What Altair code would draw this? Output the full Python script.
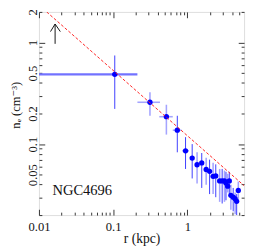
import altair as alt
import pandas as pd

# ---- data ----
r = [0.105, 0.313, 0.521, 0.731, 0.944, 1.16, 1.35, 1.56, 1.79, 1.99, 2.22, 2.41,
     2.72, 2.94, 3.16, 3.31, 3.49, 3.67, 3.85, 4.14, 4.40, 4.61, 4.85]
n = [0.486, 0.258, 0.186, 0.137, 0.0858, 0.0729, 0.0626, 0.0653, 0.0562, 0.0539,
     0.0482, 0.0486, 0.0434, 0.0434, 0.0434, 0.0413, 0.0385, 0.0434, 0.0313, 0.030,
     0.0289, 0.0273, 0.035]
n_hi = [0.745, 0.324, 0.244, 0.19, 0.117, 0.1, 0.083, 0.0817, 0.0734, 0.0703,
        0.0656, 0.0632, 0.0569, 0.0569, 0.0548, 0.0533, 0.051, 0.0533, 0.0398, 0.037,
        0.0334, 0.0322, 0.0428]
n_lo = [0.222, 0.19, 0.124, 0.083, 0.0569, 0.0459, 0.041, 0.037, 0.0398, 0.0322,
        0.0322, 0.030, 0.027, 0.026, 0.027, 0.028, 0.0334, 0.0322, 0.0226, 0.0218,
        0.0204, 0.0197, 0.028]
y_kind = ["dark", "light", "light", "dark", "dark", "dark", "light", "dark", "light",
          "dark", "light", "dark", "light", "dark", "light", "dark", "light", "dark",
          "light", "dark", "light", "dark", "light"]

xerr_lo = [0.01, 0.212, 0.418, 0.635, 0.851]
xerr_hi = [0.212, 0.427, 0.635, 0.832, 1.05]
xerr_kind = ["mid", "light", "light", "light", "light"]

fit_r = [0.0127, 5.8]
fit_n = [2.0, 0.039]

arrow_r = [0.0165, 0.0165, 0.0143, 0.0165, 0.0194]
arrow_n = [0.97, 1.52, 1.28, 1.52, 1.28]
arrow_part = ["shaft", "shaft", "head", "head", "head"]
arrow_order = [0, 1, 0, 1, 2]

label_text = ["NGC4696"]
label_r = [0.0152]
label_n = [0.0352]

x_ticks = [0.01, 0.02, 0.03, 0.04, 0.05, 0.06, 0.07, 0.08, 0.09,
           0.1, 0.2, 0.3, 0.4, 0.5, 0.6, 0.7, 0.8, 0.9,
           1, 2, 3, 4, 5]
y_ticks = [0.02, 0.03, 0.04, 0.05, 0.06, 0.07, 0.08, 0.09,
           0.1, 0.2, 0.3, 0.4, 0.5, 0.6, 0.7, 0.8, 0.9, 1, 2]
x_labels = [0.01, 0.1, 1]
y_labels = [0.05, 0.1, 0.2, 0.5, 1, 2]
x_major = [0.01, 0.1, 1]
y_major = [0.1, 1]

# ---- tables ----
pts = pd.DataFrame({"r": r, "n": n, "n_lo": n_lo, "n_hi": n_hi, "kind": y_kind})
xe = pd.DataFrame({"n": n[:5], "r_lo": xerr_lo, "r_hi": xerr_hi, "kind": xerr_kind})
fit = pd.DataFrame({"r": fit_r, "n": fit_n})
arrow = pd.DataFrame({"r": arrow_r, "n": arrow_n, "part": arrow_part, "o": arrow_order})
lab = pd.DataFrame({"r": label_r, "n": label_n, "t": label_text})

SERIF = "'Liberation Serif', 'DejaVu Serif', serif"
xs = alt.Scale(type="log", domain=[0.01, 5.8], nice=False)
ys = alt.Scale(type="log", domain=[0.02, 2], nice=False)

def lst(v):
    return "[" + ",".join(str(a) for a in v) + "]"

def tick_dash(major):
    return {"condition": {"test": f"indexof({lst(major)}, datum.value) < 0", "value": [3, 20]},
            "value": []}

common = dict(domain=False, grid=False, tickColor="#333", tickWidth=1,
              tickSize=alt.ExprRef(expr="-6"), labelOverlap=False)

x_axis_main = alt.Axis(
    orient="bottom", values=x_ticks, format="~g",
    labelExpr=f"indexof({lst(x_labels)}, datum.value) >= 0 ? datum.label : ''",
    tickDash=tick_dash(x_major), labelFlush=False, labelPadding=12,
    labelFont=SERIF, labelFontSize=13, labelColor="#111",
    title="r (kpc)", titleFont=SERIF, titleFontSize=14, titleFontWeight="normal",
    titleColor="#111", titleY=28, titleBaseline="alphabetic", **common)
y_axis_main = alt.Axis(
    orient="left", values=y_ticks, format="~g",
    labelExpr=f"indexof({lst(y_labels)}, datum.value) >= 0 ? datum.label : ''",
    tickDash=tick_dash(y_major), labelFlush=False, labelPadding=9,
    labelAngle=270, labelAlign="center", labelBaseline="alphabetic",
    labelFont=SERIF, labelFontSize=13, labelColor="#111",
    title="nₑ (cm⁻³)", titleFont=SERIF, titleFontSize=13, titleFontWeight="normal",
    titleColor="#111", titleAngle=270, titleX=-24, titleY=96,
    titleAlign="center", titleBaseline="middle", **common)
x_axis_top = alt.Axis(orient="top", values=x_ticks, labels=False, title=None,
                      tickDash=tick_dash(x_major), **common)
y_axis_right = alt.Axis(orient="right", values=y_ticks, labels=False, title=None,
                        tickDash=tick_dash(y_major), **common)

kind_dom = ["dark", "light", "mid"]
col = alt.Color("kind:N", scale=alt.Scale(domain=kind_dom, range=["#3a3aff", "#a4a4ff", "#7272ff"]), legend=None)
sw = alt.StrokeWidth("kind:N", scale=alt.Scale(domain=kind_dom, range=[1.0, 2.2, 1.2]), legend=None)

vbars = alt.Chart(pts).mark_rule(clip=True).encode(
    x=alt.X("r:Q", scale=xs, axis=x_axis_main),
    y=alt.Y("n_lo:Q", scale=ys, axis=y_axis_main),
    y2="n_hi:Q", color=col, strokeWidth=sw)

hbars = alt.Chart(xe).mark_rule(clip=True).encode(
    x=alt.X("r_lo:Q", scale=xs, axis=None), x2="r_hi:Q",
    y=alt.Y("n:Q", scale=ys, axis=None), color=col, strokeWidth=sw)

dots = alt.Chart(pts).mark_circle(size=30, color="#0000ff", opacity=1, clip=True).encode(
    x=alt.X("r:Q", scale=xs, axis=None), y=alt.Y("n:Q", scale=ys, axis=None))

fitline = alt.Chart(fit).mark_line(color="#ff2020", strokeDash=[3, 2], strokeWidth=1, clip=True).encode(
    x=alt.X("r:Q", scale=xs, axis=x_axis_top), y=alt.Y("n:Q", scale=ys, axis=y_axis_right))

arr = alt.Chart(arrow).mark_line(color="#111", strokeWidth=1).encode(
    x=alt.X("r:Q", scale=xs, axis=None), y=alt.Y("n:Q", scale=ys, axis=None),
    detail="part:N", order="o:Q")

txt = alt.Chart(lab).mark_text(font=SERIF, fontSize=15, align="left", baseline="middle", color="#111").encode(
    x=alt.X("r:Q", scale=xs, axis=None), y=alt.Y("n:Q", scale=ys, axis=None), text="t:N")

chart = alt.layer(hbars, vbars, dots, fitline, arr, txt).resolve_axis(
    x="independent", y="independent"
).properties(
    width=212, height=210,
    autosize=alt.AutoSizeParams(type="none"),
    padding={"left": 32, "top": 0, "right": 2, "bottom": 31},
).configure_view(stroke="#333", strokeWidth=1).configure(background="white")

chart.save("out.html", embed_options={"renderer": "svg", "actions": False})
